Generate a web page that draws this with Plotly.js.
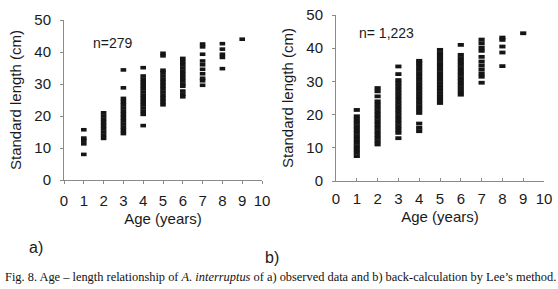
<!DOCTYPE html>
<html>
<head>
<meta charset="utf-8">
<script src="https://cdn.plot.ly/plotly-3.0.1.min.js"></script>
<style>
html,body{margin:0;padding:0;background:#fff;}
#chart{width:558px;height:289px;}
</style>
</head>
<body>
<div id="chart"></div>
<script>
// Ages (years) on the x axis
const ages = [1, 2, 3, 4, 5, 6, 7, 8, 9];
const xTicks = [0, 1, 2, 3, 4, 5, 6, 7, 8, 9, 10];
const yTicks = [0, 10, 20, 30, 40, 50];

// a) observed data: standard lengths (cm) read for each age 1..9
const observed = [
  [8, 11.3, 12.4, 13.1, 15.7],
  [13, 14, 15, 16, 17, 18, 19, 20, 21],
  [14.5, 15.5, 16.5, 17.5, 18.5, 19.5, 20.5, 21.5, 22.5, 23.5, 24.5, 25.5, 28.8, 34.4],
  [17, 20.5, 21.5, 22.5, 23.5, 24.5, 25.5, 26.5, 27.5, 28.5, 29.5, 30.5, 31.5, 32.5, 35.1],
  [23.5, 24.5, 25.5, 26.5, 27.5, 28.5, 29.5, 30.5, 31.5, 32.5, 33.5, 34.3, 38.8, 39.6],
  [26, 26.8, 27.8, 29.3, 30, 31, 32, 33, 34, 35, 36, 37, 38],
  [29.6, 31, 31.8, 33.2, 34.6, 36, 37.2, 39.3, 41.6, 42.5],
  [34.8, 38.3, 39.3, 40.9, 42.6],
  [44]
];

// b) back-calculated lengths (Lee's method), cm, for each age 1..9
const backCalc = [
  [7.5, 8.5, 9.5, 10.5, 11.5, 12.5, 13.5, 14.5, 15.5, 16.5, 17.5, 18.5, 19.5, 21.4],
  [11, 12, 13, 14, 15, 16, 17, 18, 19, 20, 21, 22, 23, 24, 25.5, 27, 28],
  [12.9, 14.5, 15.5, 16.5, 17.5, 18.5, 19.5, 20.5, 21.5, 22.5, 23.5, 24.5, 25.5, 26.5, 27.5, 28.5, 29.5, 30.4, 32.2, 34.5],
  [15, 16, 17.3, 20.5, 21.5, 22.5, 23.5, 24.5, 25.5, 26.5, 27.5, 28.5, 29.5, 30.5, 31.5, 32.5, 33.5, 34.5, 35.5, 36.2],
  [23.5, 24.5, 25.5, 26.5, 27.5, 28.5, 29.5, 30.5, 31.5, 32.5, 33.5, 34.5, 35.5, 36.5, 37.5, 38.5, 39.5],
  [26, 27, 28, 29, 30, 31, 32, 33, 34, 35, 36, 37, 38, 41],
  [29.6, 31.4, 32.4, 33.6, 34.8, 36, 37.4, 39.2, 40.2, 41.5, 42.6],
  [34.6, 38.7, 40.5, 42.5, 43.2],
  [44.5]
];

function flatten(groups) {
  const x = [], y = [];
  groups.forEach((vals, i) => vals.forEach(v => { x.push(ages[i]); y.push(v); }));
  return {x, y};
}

const obs = flatten(observed);
const back = flatten(backCalc);

const traces = [
  {type: 'scatter', mode: 'markers', x: obs.x, y: obs.y, xaxis: 'x', yaxis: 'y',
   marker: {symbol: 'line-ew', size: 4, color: '#151515', line: {width: 3.6, color: '#151515'}},
   showlegend: false, hoverinfo: 'x+y'},
  {type: 'scatter', mode: 'markers', x: back.x, y: back.y, xaxis: 'x2', yaxis: 'y2',
   marker: {symbol: 'line-ew', size: 4.4, color: '#151515', line: {width: 3.8, color: '#151515'}},
   showlegend: false, hoverinfo: 'x+y'}
];

const W = 558, H = 289;
const font = {family: 'Liberation Sans, Arial, sans-serif', size: 15, color: '#1a1a1a'};

function xAxis(domain, anchor, ticksDir) {
  return {
    domain: domain, anchor: anchor, range: [0, 10], tickvals: xTicks, ticktext: xTicks.map(String),
    showgrid: false, zeroline: false, showline: true, linecolor: '#8a8a8a', linewidth: 1,
    ticks: ticksDir, ticklen: 3, tickcolor: '#8a8a8a', tickfont: font, ticklabelstandoff: 4,
    title: {text: 'Age (years)', font: font, standoff: 5}, fixedrange: true
  };
}
function yAxis(domain, anchor) {
  return {
    domain: domain, anchor: anchor, range: [0, 50], tickvals: yTicks, ticktext: yTicks.map(String),
    showgrid: false, zeroline: false, showline: true, linecolor: '#8a8a8a', linewidth: 1,
    ticks: 'outside', ticklen: 3, tickcolor: '#8a8a8a', tickfont: font, ticklabelstandoff: 6,
    title: {text: 'Standard length (cm)', font: font, standoff: 9}, fixedrange: true
  };
}

const layout = {
  width: W, height: H,
  margin: {l: 0, r: 0, t: 0, b: 0},
  paper_bgcolor: '#ffffff', plot_bgcolor: 'rgba(0,0,0,0)',
  xaxis: xAxis([64 / W, 262 / W], 'y', 'outside'),
  yaxis: yAxis([1 - 180 / H, 1 - 20 / H], 'x'),
  xaxis2: xAxis([336 / W, 544 / W], 'y2', 'inside'),
  yaxis2: yAxis([1 - 181 / H, 1 - 15 / H], 'x2'),
  annotations: [
    {text: 'n=279', xref: 'paper', yref: 'paper', x: 113 / W, y: 1 - 43 / H,
     xanchor: 'center', yanchor: 'middle', showarrow: false, font: {family: font.family, size: 14, color: '#1a1a1a'}},
    {text: 'n= 1,223', xref: 'paper', yref: 'paper', x: 386 / W, y: 1 - 33 / H,
     xanchor: 'center', yanchor: 'middle', showarrow: false, font: {family: font.family, size: 14, color: '#1a1a1a'}},
    {text: 'a)', xref: 'paper', yref: 'paper', x: 36 / W, y: 1 - 247 / H,
     xanchor: 'center', yanchor: 'middle', showarrow: false, font: {family: font.family, size: 16, color: '#1a1a1a'}},
    {text: 'b)', xref: 'paper', yref: 'paper', x: 272 / W, y: 1 - 257 / H,
     xanchor: 'center', yanchor: 'middle', showarrow: false, font: {family: font.family, size: 16, color: '#1a1a1a'}},
    {text: 'Fig. 8. Age \u2013 length relationship of <i>A. interruptus</i> of a) observed data and b) back-calculation by Lee\u2019s method.',
     xref: 'paper', yref: 'paper', x: 3 / W, y: 1 - 277 / H, xanchor: 'left', yanchor: 'middle', showarrow: false,
     font: {family: 'Liberation Serif, Times New Roman, serif', size: 12.4, color: '#111'}}
  ]
};

Plotly.newPlot('chart', traces, layout, {displayModeBar: false, staticPlot: true});
</script>
</body>
</html>
